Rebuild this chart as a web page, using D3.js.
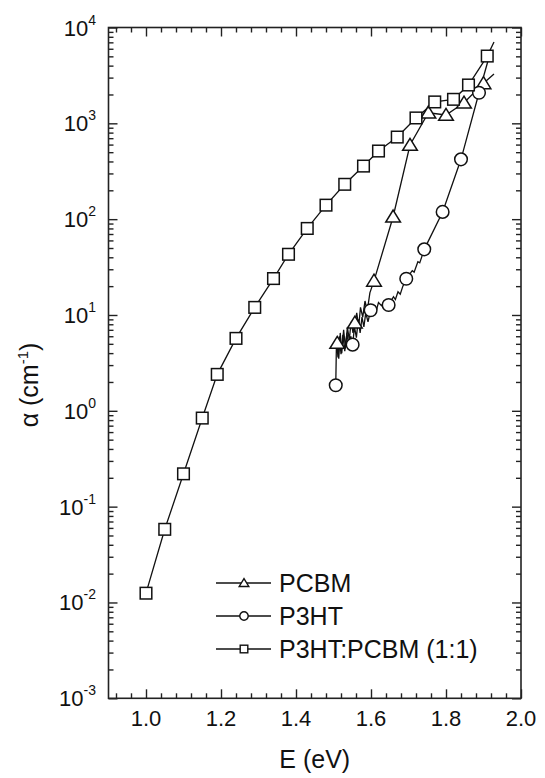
<!DOCTYPE html>
<html>
<head>
<meta charset="utf-8">
<script src="https://cdn.jsdelivr.net/npm/d3@7"></script>
<style>
  body { margin: 0; background: #fff; }
  svg { font-family: "Liberation Sans", Arial, sans-serif; }
</style>
</head>
<body>
<div id="chart"></div>
<script>
// Absorption data: energies (eV) and alpha (cm^-1)
// marker points
var blendE = [1.00, 1.05, 1.10, 1.15, 1.19, 1.24, 1.29, 1.34, 1.38, 1.43, 1.48, 1.53, 1.58, 1.62, 1.67, 1.72, 1.77, 1.82, 1.86, 1.91];
var blendA = [0.0125, 0.058, 0.22, 0.84, 2.4, 5.7, 12, 24, 43, 80, 140, 231, 358, 514, 719, 1138, 1672, 1780, 2512, 5035];
var pcbmE = [1.51, 1.557, 1.608, 1.659, 1.704, 1.753, 1.80, 1.848, 1.90];
var pcbmA = [5.1, 8.3, 22.7, 106, 594, 1290, 1222, 1640, 2616];
var p3htE = [1.506, 1.551, 1.599, 1.647, 1.694, 1.742, 1.791, 1.84, 1.888];
var p3htA = [1.85, 4.9, 11.2, 12.7, 23.9, 48.4, 119, 421, 2086];

// extra points of the traced curves between markers (noise and tails)
var blendTraceE = [1.928];
var blendTraceA = [7060];
var pcbmTraceE = [1.514, 1.518, 1.522, 1.527, 1.532, 1.537, 1.542, 1.547, 1.552, 1.562, 1.567, 1.572, 1.578, 1.584, 1.590, 1.597, 1.928];
var pcbmTraceA = [3.5, 6.5, 4.0, 7.0, 4.5, 7.5, 5.5, 8.5, 6.5, 10.5, 7.5, 12, 9.5, 14, 11, 17, 3270];
var p3htTraceE = [1.508, 1.512, 1.516, 1.520, 1.525, 1.530, 1.536, 1.541, 1.546, 1.556, 1.561, 1.566, 1.571, 1.576, 1.581, 1.586, 1.592, 1.610, 1.615, 1.620, 1.628, 1.635, 1.660, 1.665, 1.672, 1.678, 1.685, 1.710, 1.715, 1.725, 1.730, 1.912];
var p3htTraceA = [5.5, 3.6, 6.0, 3.9, 6.2, 4.2, 6.5, 4.5, 6.0, 7.5, 5.8, 9.0, 6.5, 9.5, 7.5, 10.5, 8.5, 12.5, 11.5, 13.5, 12.5, 14, 15.5, 14.5, 17.5, 16.5, 20, 29, 28, 36, 35, 4500];

var seriesNames = ['PCBM', 'P3HT', 'P3HT:PCBM (1:1)'];
var xTickValues = [1.0, 1.2, 1.4, 1.6, 1.8, 2.0];
var yExponents = [-3, -2, -1, 0, 1, 2, 3, 4];

var width = 545, height = 778;
var plot = { left: 108.5, right: 521, top: 27.5, bottom: 698.3 };

var x = d3.scaleLinear().domain([0.9, 2.0]).range([plot.left, plot.right]);
var y = d3.scaleLog().domain([1e-3, 1e4]).range([plot.bottom, plot.top]);

var svg = d3.select('#chart').append('svg')
  .attr('width', width)
  .attr('height', height);

function zip(es, as) {
  return es.map(function (e, i) { return { e: e, a: as[i] }; });
}

var series = [
  { name: seriesNames[0], shape: 'triangle', marks: zip(pcbmE, pcbmA), trace: zip(pcbmTraceE, pcbmTraceA) },
  { name: seriesNames[1], shape: 'circle', marks: zip(p3htE, p3htA), trace: zip(p3htTraceE, p3htTraceA) },
  { name: seriesNames[2], shape: 'square', marks: zip(blendE, blendA), trace: zip(blendTraceE, blendTraceA) }
];

// minor tick values
var xMinor = d3.range(0, 28).map(function (i) { return +(0.92 + i * 0.04).toFixed(2); })
  .filter(function (v) { return v < 2.0 && xTickValues.indexOf(v) < 0; });
var yMinor = [];
yExponents.slice(0, -1).forEach(function (p) {
  for (var k = 2; k < 10; k++) yMinor.push(k * Math.pow(10, p));
});

// axes, ticks pointing inward
var axisG = svg.append('g').attr('class', 'axes');
function tickAxis(axisFn, scale, vals, size, transform) {
  axisG.append('g')
    .attr('transform', transform)
    .call(axisFn(scale).tickValues(vals).tickSize(size).tickFormat(''))
    .call(function (g) { g.select('.domain').remove(); })
    .selectAll('line').attr('stroke', '#222').attr('stroke-width', 1.4);
}
tickAxis(d3.axisTop, x, xTickValues, 9, 'translate(0,' + plot.bottom + ')');
tickAxis(d3.axisTop, x, xMinor, 5, 'translate(0,' + plot.bottom + ')');
tickAxis(d3.axisBottom, x, xTickValues, 9, 'translate(0,' + plot.top + ')');
tickAxis(d3.axisBottom, x, xMinor, 5, 'translate(0,' + plot.top + ')');
var yMajor = yExponents.map(function (p) { return Math.pow(10, p); });
tickAxis(d3.axisRight, y, yMajor, 9, 'translate(' + plot.left + ',0)');
tickAxis(d3.axisRight, y, yMinor, 5, 'translate(' + plot.left + ',0)');
tickAxis(d3.axisLeft, y, yMajor, 9, 'translate(' + plot.right + ',0)');
tickAxis(d3.axisLeft, y, yMinor, 5, 'translate(' + plot.right + ',0)');

axisG.append('rect')
  .attr('x', plot.left).attr('y', plot.top)
  .attr('width', plot.right - plot.left).attr('height', plot.bottom - plot.top)
  .attr('fill', 'none').attr('stroke', '#222').attr('stroke-width', 1.6);

// tick labels
svg.append('g').selectAll('text').data(xTickValues).join('text')
  .attr('x', function (d) { return x(d); })
  .attr('y', plot.bottom + 28)
  .attr('text-anchor', 'middle')
  .attr('font-size', 22)
  .attr('fill', '#111')
  .text(function (d) { return d.toFixed(1); });

var yLab = svg.append('g').selectAll('text').data(yExponents).join('text')
  .attr('x', 96)
  .attr('y', function (d) { return y(Math.pow(10, d)) + 8; })
  .attr('text-anchor', 'end')
  .attr('font-size', 22)
  .attr('fill', '#111');
yLab.append('tspan').text('10');
yLab.append('tspan').attr('font-size', 14).attr('dy', -11).text(function (d) { return d; });

// axis titles
svg.append('text')
  .attr('x', (plot.left + plot.right) / 2)
  .attr('y', 768)
  .attr('text-anchor', 'middle')
  .attr('font-size', 25)
  .attr('fill', '#111')
  .text('E (eV)');

var yTitle = svg.append('text')
  .attr('transform', 'translate(38,385) rotate(-90)')
  .attr('text-anchor', 'middle')
  .attr('font-size', 25)
  .attr('fill', '#111');
yTitle.append('tspan').text('\u03b1 (cm');
yTitle.append('tspan').attr('font-size', 15).attr('dy', -10).text('-1');
yTitle.append('tspan').attr('dy', 10).text(')');

// markers
function drawMarker(sel, shape, r) {
  if (shape === 'circle') {
    sel.append('circle').attr('r', r);
  } else if (shape === 'square') {
    sel.append('rect').attr('x', -r).attr('y', -r).attr('width', 2 * r).attr('height', 2 * r);
  } else {
    var h = r * 1.15;
    sel.append('path').attr('d', 'M0,' + (-h) + 'L' + (h * 1.1) + ',' + (h * 0.8) + 'L' + (-h * 1.1) + ',' + (h * 0.8) + 'Z');
  }
}

var line = d3.line().x(function (d) { return x(d.e); }).y(function (d) { return y(d.a); });

var plotG = svg.append('g').attr('class', 'series');
series.forEach(function (s) {
  var pts = s.marks.concat(s.trace).sort(function (a, b) { return a.e - b.e; });
  plotG.append('path')
    .datum(pts)
    .attr('d', line)
    .attr('fill', 'none')
    .attr('stroke', '#111')
    .attr('stroke-width', 1.3);
});
series.forEach(function (s) {
  plotG.append('g').selectAll('g').data(s.marks).join('g')
    .attr('transform', function (d) { return 'translate(' + x(d.e) + ',' + y(d.a) + ')'; })
    .each(function () { drawMarker(d3.select(this), s.shape, s.shape === 'circle' ? 6.3 : 5.8); })
    .selectAll('*')
    .attr('fill', '#fff')
    .attr('stroke', '#111')
    .attr('stroke-width', 1.5);
});

// legend
var legendRows = [583, 616, 649];
var legend = svg.append('g').attr('class', 'legend');
series.forEach(function (s, i) {
  var row = legend.append('g').attr('transform', 'translate(0,' + legendRows[i] + ')');
  row.append('line').attr('x1', 216).attr('x2', 271)
    .attr('stroke', '#111').attr('stroke-width', 1.3);
  var m = row.append('g').attr('transform', 'translate(244,0)');
  drawMarker(m, s.shape, s.shape === 'circle' ? 4.2 : 3.8);
  m.selectAll('*').attr('fill', '#fff').attr('stroke', '#111').attr('stroke-width', 1.4);
  row.append('text').attr('x', 279).attr('y', 9)
    .attr('font-size', 25).attr('fill', '#111')
    .text(s.name);
});
</script>
</body>
</html>
